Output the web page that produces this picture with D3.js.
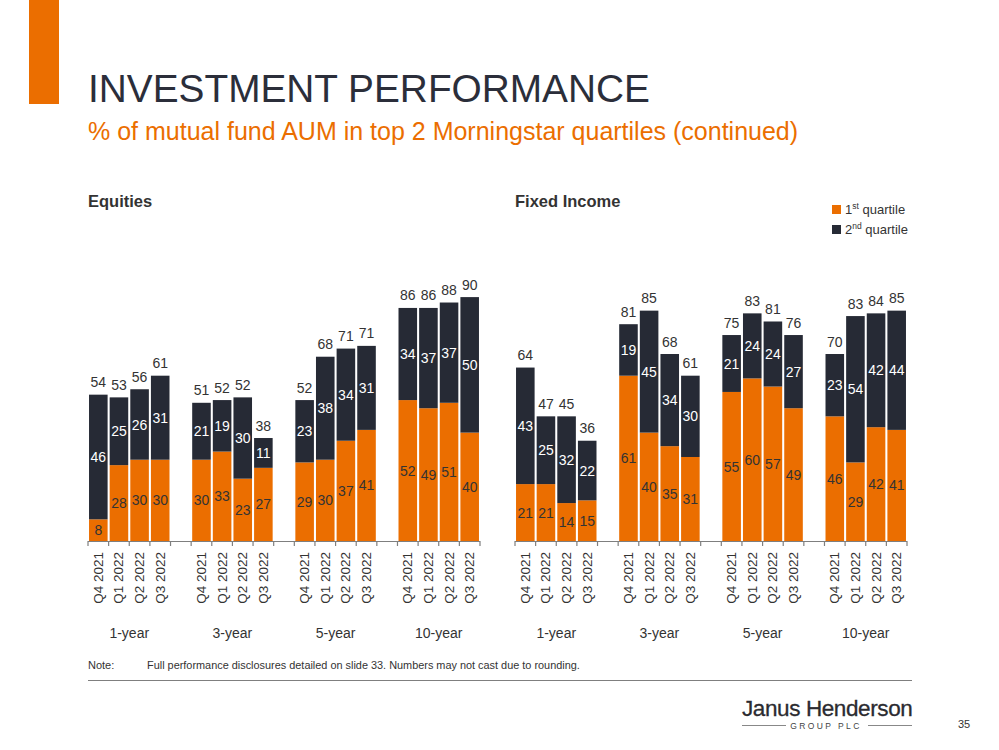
<!DOCTYPE html>
<html>
<head>
<meta charset="utf-8">
<script src="https://cdn.jsdelivr.net/npm/d3@7/dist/d3.min.js"></script>
<style>
  html, body { margin: 0; padding: 0; background: #fff; }
  svg { display: block; font-family: "Liberation Sans", Arial, sans-serif; }
</style>
</head>
<body>
<svg id="chart" width="999" height="750"></svg>
<script>
// ---------- DATA ----------
const periods = ["1-year", "3-year", "5-year", "10-year"];
const quarters = ["Q4 2021", "Q1 2022", "Q2 2022", "Q3 2022"];

const equities1st   = [8, 28, 30, 30,  30, 33, 23, 27,  29, 30, 37, 41,  52, 49, 51, 40];
const equities2nd   = [46, 25, 26, 31, 21, 19, 30, 11,  23, 38, 34, 31,  34, 37, 37, 50];
const equitiesTotal = [54, 53, 56, 61, 51, 52, 52, 38,  52, 68, 71, 71,  86, 86, 88, 90];

const fixed1st   = [21, 21, 14, 15,  61, 40, 35, 31,  55, 60, 57, 49,  46, 29, 42, 41];
const fixed2nd   = [43, 25, 32, 22,  19, 45, 34, 30,  21, 24, 24, 27,  23, 54, 42, 44];
const fixedTotal = [64, 47, 45, 36,  81, 85, 68, 61,  75, 83, 81, 76,  70, 83, 84, 85];

const legendLabels = [["1", "st", " quartile"], ["2", "nd", " quartile"]];

// ---------- STYLE ----------
const ORANGE = "#EB6E00";
const NAVY = "#262A35";
const TEXT = "#333333";

const svg = d3.select("#chart");

// header
svg.append("rect").attr("x", 29).attr("y", 0).attr("width", 30).attr("height", 104).attr("fill", ORANGE);
svg.append("text").attr("x", 88).attr("y", 102)
  .attr("font-size", 38.8).attr("fill", "#2B2E3A").text("INVESTMENT PERFORMANCE");
svg.append("text").attr("x", 88).attr("y", 140)
  .attr("font-size", 25).attr("fill", ORANGE)
  .text("% of mutual fund AUM in top 2 Morningstar quartiles (continued)");

// slot domain: 4 groups of 4 bars, with an empty slot between groups
const slots = [];
periods.forEach((p, gi) => {
  quarters.forEach(q => slots.push(p + "|" + q));
  if (gi < periods.length - 1) slots.push("gap" + gi);
});

const y = d3.scaleLinear().domain([0, 100]).range([541, 270]);

function panel(x0, x1, title, first, second, total) {
  const g = svg.append("g");
  const x = d3.scaleBand().domain(slots).range([x0, x1]).paddingInner(0.1).paddingOuter(0.05);

  g.append("text").attr("x", x0).attr("y", 207)
    .attr("font-size", 16.5).attr("font-weight", "bold").attr("fill", TEXT).text(title);

  const rows = [];
  periods.forEach((p, gi) => quarters.forEach((q, qi) => {
    const i = gi * 4 + qi;
    rows.push({ key: p + "|" + q, q, a: first[i], b: second[i], t: total[i] });
  }));

  // 1st quartile
  g.selectAll(".b1").data(rows).join("rect")
    .attr("x", d => x(d.key)).attr("width", x.bandwidth())
    .attr("y", d => y(d.a)).attr("height", d => y(0) - y(d.a))
    .attr("fill", ORANGE);
  // 2nd quartile
  g.selectAll(".b2").data(rows).join("rect")
    .attr("x", d => x(d.key)).attr("width", x.bandwidth())
    .attr("y", d => y(d.a + d.b)).attr("height", d => y(d.a) - y(d.a + d.b))
    .attr("fill", NAVY);

  // labels
  g.selectAll(".l1").data(rows).join("text")
    .attr("x", d => x(d.key) + x.bandwidth() / 2)
    .attr("y", d => (y(0) + y(d.a)) / 2)
    .attr("dy", "0.36em").attr("text-anchor", "middle")
    .attr("font-size", 14).attr("fill", TEXT).text(d => d.a);
  g.selectAll(".l2").data(rows).join("text")
    .attr("x", d => x(d.key) + x.bandwidth() / 2)
    .attr("y", d => (y(d.a) + y(d.a + d.b)) / 2)
    .attr("dy", "0.36em").attr("text-anchor", "middle")
    .attr("font-size", 14).attr("fill", "#ffffff").text(d => d.b);
  g.selectAll(".lt").data(rows).join("text")
    .attr("x", d => x(d.key) + x.bandwidth() / 2)
    .attr("y", d => y(d.a + d.b) - 7.5)
    .attr("text-anchor", "middle")
    .attr("font-size", 14).attr("fill", TEXT).text(d => d.t);

  // axis line + ticks at slot boundaries
  g.append("line").attr("x1", x0).attr("x2", x1).attr("y1", y(0) + 0.5).attr("y2", y(0) + 0.5)
    .attr("stroke", "#7F7F7F").attr("stroke-width", 1.2);
  const bounds = slots.map(s => x(s) - x.step() * x.paddingInner() / 2).concat([x1]);
  bounds[0] = x0;
  g.selectAll(".tk").data(bounds).join("line")
    .attr("x1", d => d).attr("x2", d => d)
    .attr("y1", y(0)).attr("y2", y(0) + 5)
    .attr("stroke", "#7F7F7F").attr("stroke-width", 1.2);

  // quarter labels (rotated)
  g.selectAll(".ql").data(rows).join("text")
    .attr("transform", d => `translate(${x(d.key) + x.bandwidth() / 2 + 4.5},552) rotate(-90)`)
    .attr("text-anchor", "end").attr("font-size", 13.5).attr("fill", TEXT).text(d => d.q);

  // period labels
  g.selectAll(".pl").data(periods).join("text")
    .attr("x", p => (x(p + "|" + quarters[0]) + x(p + "|" + quarters[3]) + x.bandwidth()) / 2)
    .attr("y", 638).attr("text-anchor", "middle")
    .attr("font-size", 14).attr("fill", TEXT).text(p => p);
}

panel(88, 480, "Equities", equities1st, equities2nd, equitiesTotal);
panel(515, 907, "Fixed Income", fixed1st, fixed2nd, fixedTotal);

// legend
const lg = svg.append("g");
[ORANGE, NAVY].forEach((c, i) => {
  lg.append("rect").attr("x", 832).attr("y", 205 + i * 20).attr("width", 9).attr("height", 9).attr("fill", c);
  const t = lg.append("text").attr("x", 845).attr("y", 214 + i * 20).attr("font-size", 13).attr("fill", TEXT);
  t.append("tspan").text(legendLabels[i][0]);
  t.append("tspan").attr("font-size", 8.5).attr("dy", -5).text(legendLabels[i][1]);
  t.append("tspan").attr("dy", 5).text(legendLabels[i][2]);
});

// note
svg.append("text").attr("x", 88).attr("y", 669).attr("font-size", 11).attr("fill", TEXT).text("Note:");
svg.append("text").attr("x", 147).attr("y", 669).attr("font-size", 10.9).attr("fill", TEXT)
  .text("Full performance disclosures detailed on slide 33. Numbers may not cast due to rounding.");
svg.append("line").attr("x1", 88).attr("x2", 912).attr("y1", 680.5).attr("y2", 680.5)
  .attr("stroke", "#7F7F7F").attr("stroke-width", 1);

// logo
svg.append("text").attr("x", 742).attr("y", 716).attr("font-size", 22.5).attr("letter-spacing", -0.4)
  .attr("fill", "#2B2B30").attr("stroke", "#2B2B30").attr("stroke-width", 0.3).text("Janus Henderson");
svg.append("text").attr("x", 826).attr("y", 729).attr("text-anchor", "middle")
  .attr("font-size", 8.5).attr("letter-spacing", 2.4).attr("fill", "#444").text("GROUP PLC");
svg.append("line").attr("x1", 742).attr("x2", 786).attr("y1", 725.5).attr("y2", 725.5).attr("stroke", "#888");
svg.append("line").attr("x1", 868).attr("x2", 912).attr("y1", 725.5).attr("y2", 725.5).attr("stroke", "#888");
svg.append("text").attr("x", 958).attr("y", 728).attr("font-size", 11).attr("fill", TEXT).text("35");
</script>
</body>
</html>
